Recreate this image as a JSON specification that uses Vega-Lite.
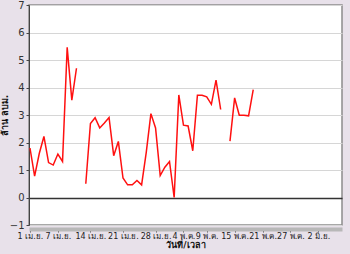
{
  "$schema": "https://vega.github.io/schema/vega-lite/v6.json",
  "width": 313,
  "height": 220,
  "autosize": {"type": "none"},
  "padding": {"left": 29, "top": 5, "right": 8, "bottom": 29},
  "background": "#e8e1ea",
  "config": {
    "view": {"fill": "#ffffff", "stroke": "#8c8c8c", "strokeWidth": 1.5},
    "font": "Tahoma, DejaVu Sans, sans-serif",
    "axis": {"labelFont": "Tahoma, DejaVu Sans, sans-serif", "titleFont": "Tahoma, DejaVu Sans, sans-serif"}
  },
  "data": {
    "values": [
      {"date": "2010-04-01", "v": 1.8},
      {"date": "2010-04-02", "v": 0.78},
      {"date": "2010-04-03", "v": 1.6},
      {"date": "2010-04-04", "v": 2.22},
      {"date": "2010-04-05", "v": 1.27},
      {"date": "2010-04-06", "v": 1.18},
      {"date": "2010-04-07", "v": 1.58},
      {"date": "2010-04-08", "v": 1.31},
      {"date": "2010-04-09", "v": 5.46},
      {"date": "2010-04-10", "v": 3.54},
      {"date": "2010-04-11", "v": 4.7},
      {"date": "2010-04-12", "v": null},
      {"date": "2010-04-13", "v": 0.5},
      {"date": "2010-04-14", "v": 2.69},
      {"date": "2010-04-15", "v": 2.9},
      {"date": "2010-04-16", "v": 2.53},
      {"date": "2010-04-17", "v": 2.71},
      {"date": "2010-04-18", "v": 2.91},
      {"date": "2010-04-19", "v": 1.52},
      {"date": "2010-04-20", "v": 2.04},
      {"date": "2010-04-21", "v": 0.71},
      {"date": "2010-04-22", "v": 0.46},
      {"date": "2010-04-23", "v": 0.46},
      {"date": "2010-04-24", "v": 0.62},
      {"date": "2010-04-25", "v": 0.46},
      {"date": "2010-04-26", "v": 1.64},
      {"date": "2010-04-27", "v": 3.05},
      {"date": "2010-04-28", "v": 2.53},
      {"date": "2010-04-29", "v": 0.8},
      {"date": "2010-04-30", "v": 1.1},
      {"date": "2010-05-01", "v": 1.31},
      {"date": "2010-05-02", "v": 0},
      {"date": "2010-05-03", "v": 3.73},
      {"date": "2010-05-04", "v": 2.63},
      {"date": "2010-05-05", "v": 2.6},
      {"date": "2010-05-06", "v": 1.7},
      {"date": "2010-05-07", "v": 3.72},
      {"date": "2010-05-08", "v": 3.72},
      {"date": "2010-05-09", "v": 3.66},
      {"date": "2010-05-10", "v": 3.39},
      {"date": "2010-05-11", "v": 4.27},
      {"date": "2010-05-12", "v": 3.2},
      {"date": "2010-05-13", "v": null},
      {"date": "2010-05-14", "v": 2.05},
      {"date": "2010-05-15", "v": 3.62},
      {"date": "2010-05-16", "v": 2.99},
      {"date": "2010-05-17", "v": 2.99},
      {"date": "2010-05-18", "v": 2.97},
      {"date": "2010-05-19", "v": 3.92}
    ]
  },
  "mark": {"type": "line", "color": "#ff1010", "strokeWidth": 1.5, "invalid": "break-paths-show-domains"},
  "encoding": {
    "x": {
      "field": "date",
      "type": "temporal",
      "scale": {
        "type": "utc",
        "domain": [
          {"year": 2010, "month": 3, "date": 31, "hours": 19, "utc": true},
          {"year": 2010, "month": 6, "date": 7, "hours": 2, "utc": true}
        ]
      },
      "axis": {
        "title": "วันที่/เวลา",
        "titleFontSize": 9,
        "titleFontWeight": "bold",
        "titleColor": "#111111",
        "titlePadding": 0,
        "values": [
          {"year": 2010, "month": 4, "date": 1, "utc": true},
          {"year": 2010, "month": 4, "date": 7, "utc": true},
          {"year": 2010, "month": 4, "date": 14, "utc": true},
          {"year": 2010, "month": 4, "date": 21, "utc": true},
          {"year": 2010, "month": 4, "date": 28, "utc": true},
          {"year": 2010, "month": 5, "date": 4, "utc": true},
          {"year": 2010, "month": 5, "date": 9, "utc": true},
          {"year": 2010, "month": 5, "date": 15, "utc": true},
          {"year": 2010, "month": 5, "date": 21, "utc": true},
          {"year": 2010, "month": 5, "date": 27, "utc": true},
          {"year": 2010, "month": 6, "date": 2, "utc": true}
        ],
        "labelExpr": "utcdate(datum.value) + ' ' + ['ม.ค.','ก.พ.','มี.ค.','เม.ย.','พ.ค.','มิ.ย.','ก.ค.','ส.ค.','ก.ย.','ต.ค.','พ.ย.','ธ.ค.'][utcmonth(datum.value)]",
        "labelFontSize": 8,
        "labelColor": "#222222",
        "labelPadding": 0,
        "labelOverlap": false,
        "labelFlush": false,
        "offset": 4,
        "tickSize": 3,
        "tickColor": "#555555",
        "domainColor": "#b8b8b8",
        "domainWidth": 4,
        "grid": false
      }
    },
    "y": {
      "field": "v",
      "type": "quantitative",
      "scale": {"domain": [-1, 7], "nice": false, "zero": false},
      "axis": {
        "title": "ล้าน ลบม.",
        "titleFontSize": 9,
        "titleFontWeight": "bold",
        "titleColor": "#111111",
        "titlePadding": 0,
        "values": [-1, 0, 1, 2, 3, 4, 5, 6, 7],
        "labelOverlap": false,
        "labelFontSize": 10,
        "labelColor": "#333333",
        "labelPadding": 2,
        "tickSize": 3,
        "tickColor": "#444444",
        "domainColor": "#444444",
        "grid": true,
        "gridColor": {"condition": {"test": "datum.value === 0", "value": "#333333"}, "value": "#d6d6d6"},
        "gridWidth": {"condition": {"test": "datum.value === 0", "value": 1.3}, "value": 1.2}
      }
    }
  }
}
